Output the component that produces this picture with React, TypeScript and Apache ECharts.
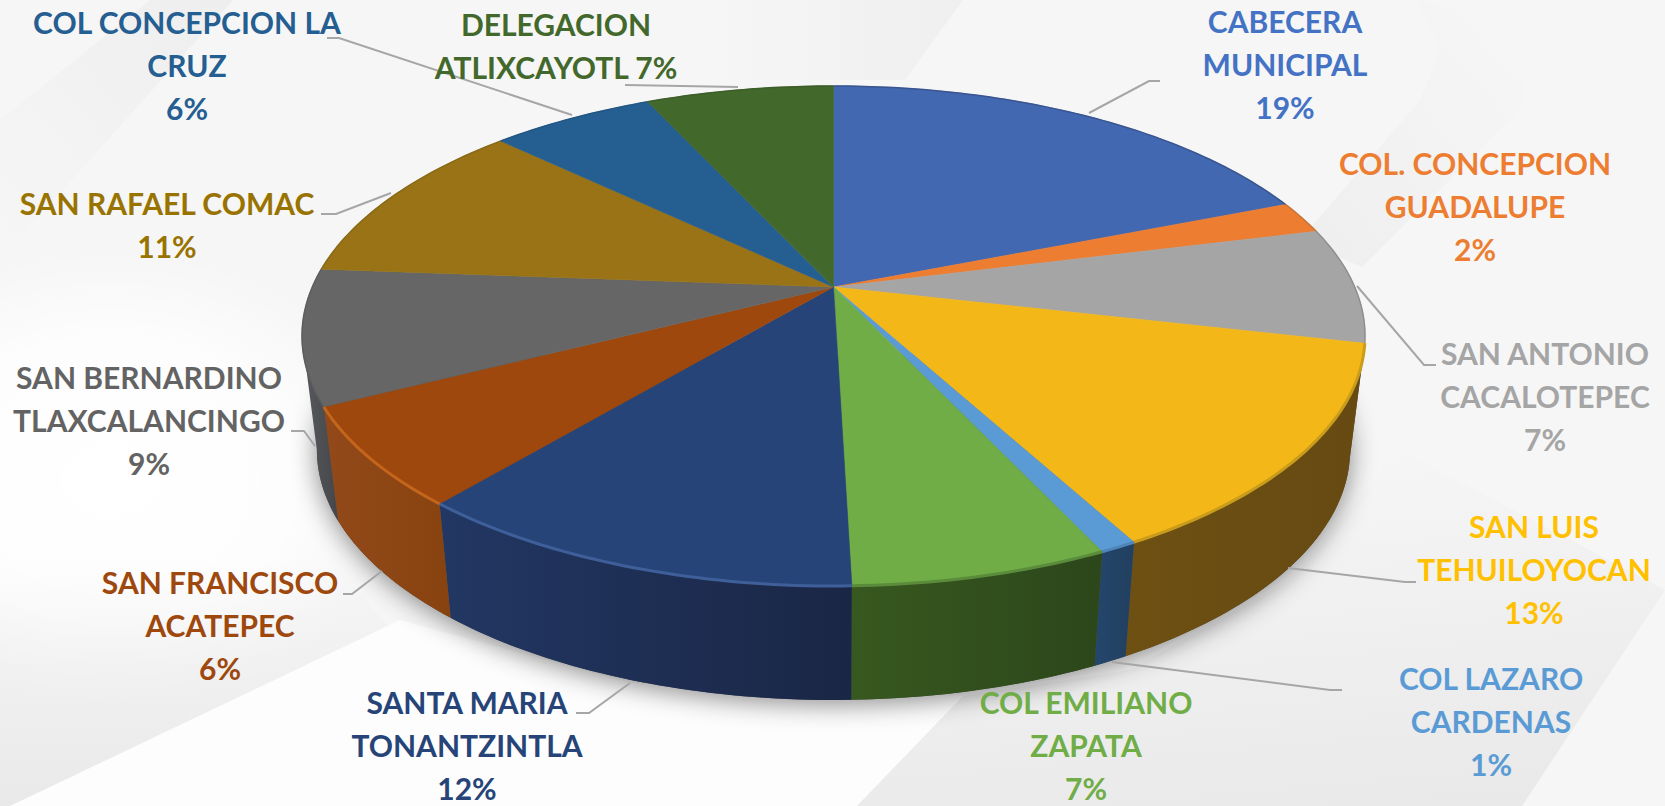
import React, { useEffect, useRef } from "react";
import * as echarts from "echarts";

const categories = [
  "CABECERA\nMUNICIPAL", "COL. CONCEPCION\nGUADALUPE", "SAN ANTONIO\nCACALOTEPEC", "SAN LUIS\nTEHUILOYOCAN",
  "COL LAZARO\nCARDENAS", "COL EMILIANO\nZAPATA", "SANTA MARIA\nTONANTZINTLA", "SAN FRANCISCO\nACATEPEC",
  "SAN BERNARDINO\nTLAXCALANCINGO", "SAN RAFAEL COMAC", "COL CONCEPCION LA\nCRUZ", "DELEGACION\nATLIXCAYOTL",
];
const values = [19.0, 2.1, 7.49, 13.49, 0.95, 6.52, 11.55, 6.4, 8.7, 10.9, 6.0, 6.9];
const percentSeparators = ["\n", "\n", "\n", "\n", "\n", "\n", "\n", "\n", "\n", "\n", "\n", " "];

const topColors = ["#4168b0", "#ed7d31", "#a5a5a5", "#f4b718", "#5b9bd5", "#70ad47", "#264478", "#9e480e", "#666666", "#997315", "#255e91", "#43682b"];
const labelColors = ["#4472c4", "#ed7d31", "#a5a5a5", "#ffc000", "#5b9bd5", "#70ad47", "#264478", "#9e480e", "#636363", "#997300", "#255e91", "#43682b"];
const wallStart = ["#333", "#633", "#555", "#6e5013", "#24466c", "#37581f", "#223763", "#93491a", "#585a5e", "#555", "#333", "#333"];
const wallEnd = ["#333", "#633", "#555", "#664a12", "#22405f", "#2c471b", "#1a2645", "#87430f", "#44464a", "#555", "#333", "#333"];
const rimColors = ["#3a5590", "#c87438", "#8f8f8f", "#c99c1c", "#4f86ba", "#5b8c3b", "#3f5f9a", "#c4651c", "#5c5e60", "#8a6a16", "#225683", "#3d5e28"];
const rimWidths = [1.5, 1.5, 1.5, 3, 3, 3, 3, 3, 1.5, 1.5, 1.5, 1.5];

const labelCenters = [
  [1285, 64], [1475, 206], [1545, 396], [1534, 569], [1491, 721], [1086, 745],
  [467, 745], [220, 625], [149, 420], [167, 224], [187, 65], [556, 45],
];
const leaderLines = [
  [[1089, 113], [1149, 81], [1160, 81]], null, [[1357, 286], [1424, 365], [1436, 365]],
  [[1288, 568], [1405, 582], [1416, 582]], [[1112, 662], [1330, 690], [1342, 690]], null,
  [[630, 683], [589, 713], [576, 713]], [[382, 571], [352, 594], [343, 594]], [[315, 446], [304, 431], [291, 431]],
  [[391, 193], [336, 214], [321, 214]], [[572, 115], [339, 38], [327, 38]], [[738, 87], [625, 85]],
];

const X0 = 833.5, Y0 = 287, A = 240.4, B = 521.2, C = 0.196, DEPTH = 114, BOTTOM_SCALE = 0.972, LINE_STEP = 43;
const FOLD_RIGHT = Math.acos(-C), FOLD_LEFT = Math.PI * 2 - FOLD_RIGHT;
const total = values.reduce((s, v) => s + v, 0);

function project(theta: number, lower: boolean): number[] {
  const X = Math.sin(theta), Y = -Math.cos(theta), w = 1 - C * Y;
  const x = X0 + (B * X) / w, y = Y0 + (A * Y) / w;
  return lower ? [X0 + (x - X0) * BOTTOM_SCALE, y + DEPTH] : [x, y];
}
function arc(t0: number, t1: number, lower: boolean): number[][] {
  const n = Math.max(2, Math.ceil(((t1 - t0) * 180) / Math.PI));
  const pts: number[][] = [];
  for (let i = 0; i <= n; i++) pts.push(project(t0 + ((t1 - t0) * i) / n, lower));
  return pts;
}
let acc = 0;
const sliceData = values.map((v, i) => {
  const start = (acc / total) * Math.PI * 2;
  acc += v;
  return [start, (acc / total) * Math.PI * 2, i];
});

function gradient(x: number, y: number, x2: number, y2: number, a: string, b: string) {
  return { type: "linear", x, y, x2, y2, colorStops: [{ offset: 0, color: a }, { offset: 1, color: b }] };
}
function bg(points: number[][], fill: any) {
  return { type: "polygon", z: -5, silent: true, shape: { points }, style: { fill } };
}
const whiteGlow = {
  type: "radial", x: 0.5, y: 0.5, r: 0.5,
  colorStops: [{ offset: 0, color: "rgba(255,255,255,1)" }, { offset: 0.6, color: "rgba(255,255,255,0.8)" }, { offset: 1, color: "rgba(255,255,255,0)" }],
};
const background = [
  { type: "rect", z: -6, silent: true, shape: { x: 0, y: 0, width: 1665, height: 806 }, style: { fill: "#f6f6f6" } },
  bg([[233, 0], [0, 260], [0, 120], [150, 0]], gradient(1, 0, 0, 1, "#eeeeee", "#f6f6f6")),
  bg([[700, 0], [963, 0], [905, 80], [700, 80]], gradient(1, 0, 0, 0, "#efefef", "#f6f6f6")),
  bg([[1416, 0], [1500, 20], [1530, 60], [1520, 110], [1362, 267], [1300, 240], [1420, 100], [1440, 50]], gradient(1, 0, 0, 1, "#f7f7f7", "#eeeeee")),
  { type: "ellipse", z: -5, silent: true, shape: { cx: 110, cy: 480, rx: 300, ry: 230 }, style: { fill: whiteGlow } },
  bg([[0, 560], [330, 560], [400, 640], [10, 806], [0, 806]], gradient(0, 0, 0, 1, "rgba(233,233,233,0)", "#e9e9e9")),
  bg([[400, 620], [630, 683], [963, 696], [857, 806], [10, 806]], "#fdfdfd"),
  bg([[857, 806], [963, 696], [1130, 670], [1290, 580], [1400, 450], [1665, 590], [1522, 806]], gradient(0.5, 0, 0.7, 1, "#f6f6f6", "#e9e9e9")),
];

const shadow = {
  type: "polygon", z: -1, silent: true, shape: { points: arc(FOLD_RIGHT - 0.4, FOLD_LEFT + 0.4, true) },
  style: { fill: "#555555", shadowBlur: 26, shadowColor: "rgba(0,0,0,0.45)", shadowOffsetY: 4 },
};

const font = { fontFamily: "Lato", fontWeight: "bold", fontSize: 30, lineHeight: 30 };

export default function App() {
  const ref = useRef<HTMLDivElement>(null);
  useEffect(() => {
    document.body.style.margin = "0";
    const chart = echarts.init(ref.current!, null, { renderer: "svg" });
    const common = { type: "custom", coordinateSystem: "none", data: sliceData, silent: true };
    chart.setOption({
      animation: false,
      graphic: { elements: [...background, shadow] },
      series: [
        {
          ...common, z: 2,
          renderItem: (_p: any, api: any) => {
            const t0 = Math.max(api.value(0), FOLD_RIGHT), t1 = Math.min(api.value(1), FOLD_LEFT), i = api.value(2);
            if (t1 <= t0) return { type: "group", children: [] };
            const points = [...arc(t0, t1, false), ...arc(t0, t1, true).reverse()];
            return { type: "polygon", shape: { points }, style: { fill: gradient(0, 0, 1, 0, wallStart[i], wallEnd[i]) } };
          },
        },
        {
          ...common, z: 3,
          renderItem: (_p: any, api: any) => {
            const t0 = api.value(0), t1 = api.value(1), i = api.value(2);
            return {
              type: "polygon",
              shape: { points: [[X0, Y0], ...arc(t0, t1, false)] },
              style: { fill: topColors[i], stroke: topColors[i], lineWidth: 0.6 },
            };
          },
        },
        {
          ...common, z: 4,
          renderItem: (_p: any, api: any) => {
            const t0 = api.value(0), t1 = api.value(1), i = api.value(2);
            return { type: "polyline", shape: { points: arc(t0, t1, false) }, style: { fill: "none", stroke: rimColors[i], lineWidth: rimWidths[i] } };
          },
        },
        {
          ...common, z: 5,
          renderItem: (_p: any, api: any) => {
            const i = api.value(2);
            const pct = Math.round((values[i] / total) * 100);
            const children: any[] = [];
            if (leaderLines[i]) {
              children.push({ type: "polyline", shape: { points: leaderLines[i] }, style: { fill: "none", stroke: "#a6a6a6", lineWidth: 2 } });
            }
            const lines = `${categories[i]}${percentSeparators[i]}${pct}%`.split("\n");
            lines.forEach((line, k) => {
              children.push({
                type: "text", x: labelCenters[i][0], y: labelCenters[i][1] + (k - (lines.length - 1) / 2) * LINE_STEP,
                style: { text: line, fill: labelColors[i], align: "center", verticalAlign: "middle", ...font },
              });
            });
            return { type: "group", children };
          },
        },
      ],
    });
    return () => chart.dispose();
  }, []);
  return <div ref={ref} style={{ position: "absolute", left: 0, top: 0, width: 1665, height: 806 }} />;
}
